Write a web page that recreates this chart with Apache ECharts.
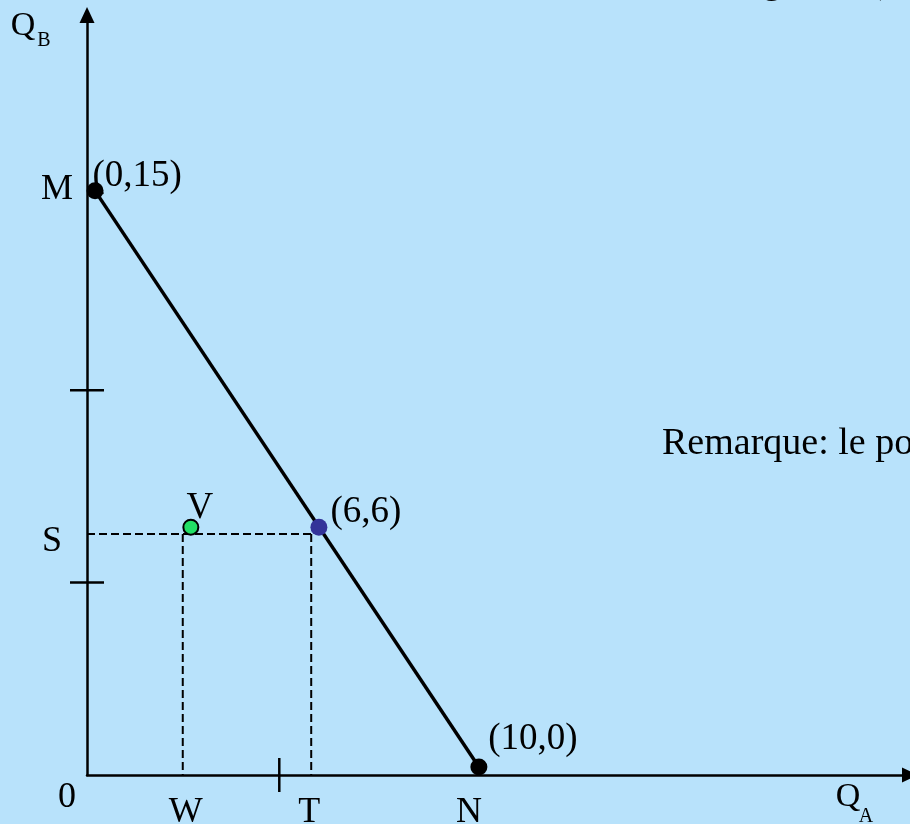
<!DOCTYPE html>
<html>
<head>
<meta charset="utf-8">
<script src="https://cdn.jsdelivr.net/npm/echarts@6/dist/echarts.min.js"></script>
<style>
html, body { margin: 0; padding: 0; background: #b8e2fb; }
#chart { width: 910px; height: 824px; }
</style>
</head>
<body>
<div id="chart"></div>
<script>
// unités du schéma : une graduation = 5
const droiteX = [0.21, 10.19];             // M -> N
const droiteY = [15.18, 0.21];
const pointsX = [0.21, 6.03, 10.19];       // M, (6,6), N
const pointsY = [15.18, 6.44, 0.21];
const pointsNoms = ['(0,15)', '(6,6)', '(10,0)'];
const pointV = [2.70, 6.44];
const niveauS = 6.26;                      // pointillé horizontal S
const abscW = 2.49;                        // pointillé vertical W
const abscT = 5.83;                        // pointillé vertical T
const gradX = [5];
const gradY = [5, 10];
const maxX = 21.4;
const maxY = 19.75;

const police = 'Liberation Serif';
const noir = '#000';

const chart = echarts.init(document.getElementById('chart'));

// petite fonction pour les lettres posées sur les axes
function lettre(x, y, texte, dx, dy, taille) {
    return {
        value: [x, y],
        label: { show: true, position: 'inside', formatter: texte, offset: [dx, dy], fontSize: taille || 36 }
    };
}

function pointille(data) {
    return {
        type: 'line', data: data, symbol: 'none', silent: true,
        lineStyle: { color: noir, width: 2, type: [8, 4] }, z: 2
    };
}

// graduations qui traversent l'axe
function graduation(horizontal) {
    return function (params, api) {
        const p = api.coord([api.value(0), api.value(1)]);
        const shape = horizontal
            ? { x1: p[0] - 17, y1: p[1], x2: p[0] + 17, y2: p[1] }
            : { x1: p[0], y1: p[1] - 17, x2: p[0], y2: p[1] + 17 };
        return { type: 'line', shape: shape, style: { stroke: noir, lineWidth: 2.5 } };
    };
}

const couleurs = [noir, '#333399', noir];
const decalages = [[42, -15], [47, -15], [54, -28]];
const etiq = { color: noir, fontSize: 37, fontFamily: police };
const axe = {
    show: true, symbol: ['none', 'triangle'], symbolSize: [15, 16],
    lineStyle: { color: noir, width: 2.5 }
};

chart.setOption({
    backgroundColor: '#b8e2fb',
    animation: false,
    textStyle: { fontFamily: police },
    grid: { left: 87, right: 0, top: 15, bottom: 49 },
    xAxis: {
        type: 'value', min: 0, max: maxX, axisLine: axe,
        axisTick: { show: false }, axisLabel: { show: false }, splitLine: { show: false }
    },
    yAxis: {
        type: 'value', min: 0, max: maxY, axisLine: axe,
        axisTick: { show: false }, axisLabel: { show: false }, splitLine: { show: false }
    },
    graphic: [
        // titre coupé en haut : seuls le « g » et la « ( » dépassent
        { type: 'text', x: 548, y: -34, silent: true,
          style: { text: 'Contrainte budgétaire (QA, QB)', font: '36px "Liberation Serif"', fill: noir, verticalAlign: 'top' } },
        { type: 'text', left: 662, top: 425, silent: true,
          style: { text: 'Remarque: le point V est réalisable', font: '38px "Liberation Serif"', fill: noir } }
    ],
    series: [
        pointille([[0, niveauS], [abscT, niveauS]]),
        pointille([[abscW, niveauS], [abscW, 0]]),
        pointille([[abscT, niveauS], [abscT, 0]]),
        {
            type: 'line', symbol: 'none', silent: true, z: 3,
            data: droiteX.map((x, i) => [x, droiteY[i]]),
            lineStyle: { color: noir, width: 3.5 }
        },
        {
            type: 'custom', silent: true, z: 4,
            data: gradY.map(v => [0, v]),
            renderItem: graduation(true)
        },
        {
            type: 'custom', silent: true, z: 4,
            data: gradX.map(v => [v, 0]),
            renderItem: graduation(false)
        },
        {
            type: 'scatter', symbolSize: 17, z: 5, silent: true,
            data: pointsX.map((x, i) => ({
                value: [x, pointsY[i]],
                itemStyle: { color: couleurs[i], opacity: 1 },
                label: { show: true, position: 'inside', formatter: pointsNoms[i], offset: decalages[i] }
            })),
            label: etiq
        },
        {
            type: 'scatter', symbolSize: 15, z: 6, silent: true,
            data: [{ value: pointV, label: { show: true, position: 'inside', formatter: 'V', offset: [9, -19] } }],
            itemStyle: { color: '#22e066', borderColor: noir, borderWidth: 2, opacity: 1 },
            label: etiq
        },
        {
            type: 'scatter', symbolSize: 1, z: 6, silent: true,
            itemStyle: { color: 'transparent', opacity: 1 },
            label: { color: noir, fontFamily: police },
            data: [
                lettre(0, pointsY[0], 'M', -30, -1),
                lettre(0, niveauS, 'S', -35, 7),
                lettre(0, 0, '0', -20, 23),
                lettre(abscW, 0, 'W', 3, 38),
                lettre(abscT, 0, 'T', -2, 38),
                lettre(pointsX[2], 0, 'N', -10, 38),
                lettre(maxX, 0, 'Q', -62, 22, 34),
                lettre(maxX, 0, 'A', -44, 42, 20),
                lettre(0, maxY, 'Q', -64, 11, 34),
                lettre(0, maxY, 'B', -43, 26, 20)
            ]
        }
    ]
});
</script>
</body>
</html>
